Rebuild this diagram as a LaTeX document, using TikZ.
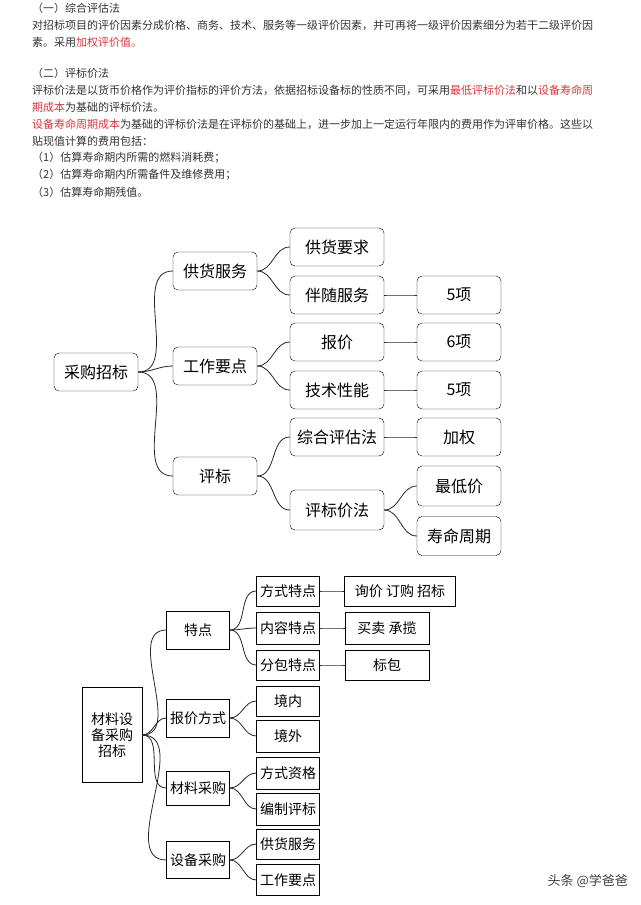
\documentclass[tikz,border=0pt]{standalone}
\usepackage{fontspec}
\setmainfont{Noto Sans CJK SC}
\usepackage{xcolor}
\definecolor{hilite}{HTML}{D9363E}
\begin{document}
\begin{tikzpicture}[x=1pt,y=-1pt]
\tikzstyle{topic}=[draw,rounded corners=5pt,minimum width=84pt,minimum height=38pt,inner sep=2pt,font=\fontsize{16}{18}\selectfont]
\tikzstyle{item}=[draw,minimum width=63pt,minimum height=31pt,inner sep=2pt,font=\fontsize{14}{16}\selectfont]
\tikzstyle{txt}=[anchor=west,inner sep=0pt,font=\fontsize{11}{13}\selectfont,text=black!80]
\tikzstyle{link}=[thick,black!85]
\useasboundingbox (0,0) rectangle (640,905);

% text above the diagrams
\node[txt] (t1) at (32,8){（一）综合评估法};
\node[txt] (t2) at (32,25){对招标项目的评价因素分成价格、商务、技术、服务等一级评价因素，并可再将一级评价因素细分为若干二级评价因};
\node[txt] (t3) at (32,42){素。采用\textcolor{hilite}{加权评价值。}};
\node[txt] (t4) at (32,73){（二）评标价法};
\node[txt] (t5) at (32,90){评标价法是以货币价格作为评价指标的评价方法，依据招标设备标的性质不同，可采用\textcolor{hilite}{最低评标价法}和以\textcolor{hilite}{设备寿命周}};
\node[txt] (t6) at (32,107){\textcolor{hilite}{期成本}为基础的评标价法。};
\node[txt] (t7) at (32,124){\textcolor{hilite}{设备寿命周期成本}为基础的评标价法是在评标价的基础上，进一步加上一定运行年限内的费用作为评审价格。这些以};
\node[txt] (t8) at (32,141){贴现值计算的费用包括：};
\node[txt] (t9) at (32,158){（1）估算寿命期内所需的燃料消耗费；};
\node[txt] (t10) at (32,175){（2）估算寿命期内所需备件及维修费用；};
\node[txt] (t11) at (32,192){（3）估算寿命期残值。};

% first diagram
\node[topic](Purchase) at (96,372){采购招标};
\node[topic](Supply) at (215,271){供货服务};
\node[topic](Work) at (215,366){工作要点};
\node[topic](Review) at (215,476){评标};
\node[topic,minimum width=94pt](Demand) at (337,247){供货要求};
\node[topic,minimum width=94pt](Service) at (337,295){伴随服务};
\node[topic,minimum width=94pt](Quote) at (337,342){报价};
\node[topic,minimum width=94pt](Tech) at (337,390){技术性能};
\node[topic,minimum width=94pt](Overall) at (337,437){综合评估法};
\node[topic,minimum width=94pt,minimum height=40pt](PriceEval) at (337,510){评标价法};
\node[topic](ServiceN) at (459,295){5项};
\node[topic](QuoteN) at (459,342){6项};
\node[topic](TechN) at (459,390){5项};
\node[topic](Weight) at (459,437){加权};
\node[topic,minimum height=40pt](Lowest) at (459,486){最低价};
\node[topic,minimum height=39pt](Life) at (459,536){寿命周期};
\foreach \a/\b in {Purchase/Supply,Purchase/Work,Purchase/Review,Supply/Demand,Supply/Service,
  Work/Quote,Work/Tech,Review/Overall,Review/PriceEval,Service/ServiceN,Quote/QuoteN,Tech/TechN,
  Overall/Weight,PriceEval/Lowest,PriceEval/Life}
  \draw[link] (\a.east) to[out=0,in=180] (\b.west);

% second diagram
\node[item,minimum width=60pt,minimum height=95pt,align=center](Material) at (112,735){材料设\\备采购\\招标};
\node[item,minimum height=38pt](Feature) at (198,630){特点};
\node[item,minimum height=38pt](Quoting) at (198,718){报价方式};
\node[item,minimum height=34pt](MatBuy) at (198,788){材料采购};
\node[item,minimum height=37pt](EquBuy) at (198,860){设备采购};
\node[item,minimum height=30pt](Mode) at (288,591){方式特点};
\node[item,minimum height=32pt](Content) at (288,628){内容特点};
\node[item,minimum height=30pt](Split) at (288,665){分包特点};
\node[item,minimum height=30pt](Home) at (288,701){境内};
\node[item,minimum height=32pt](Abroad) at (288,736){境外};
\node[item,minimum height=32pt](Qualify) at (288,773){方式资格};
\node[item,minimum height=32pt](Compile) at (288,809){编制评标};
\node[item,minimum height=30pt](Deliver) at (288,844){供货服务};
\node[item,minimum height=31pt](Points) at (288,880){工作要点};
\node[item,minimum width=111pt,minimum height=30pt](Inquiry) at (400,591){询价 订购 招标};
\node[item,minimum width=84pt,minimum height=32pt](Trade) at (387,628){买卖 承揽};
\node[item,minimum width=84pt,minimum height=30pt](Lot) at (387,665){标包};
\foreach \a/\b in {Material/Feature,Material/Quoting,Material/MatBuy,Material/EquBuy,
  Feature/Mode,Feature/Content,Feature/Split,Quoting/Home,Quoting/Abroad,MatBuy/Qualify,
  MatBuy/Compile,EquBuy/Deliver,EquBuy/Points,Mode/Inquiry,Content/Trade,Split/Lot}
  \draw[link] (\a.east) to[out=0,in=180] (\b.west);

\node[anchor=east,inner sep=0pt,text=black!75,font=\fontsize{13}{15}\selectfont] (mark) at (628,881){头条 @学爸爸};
\end{tikzpicture}
\end{document}
